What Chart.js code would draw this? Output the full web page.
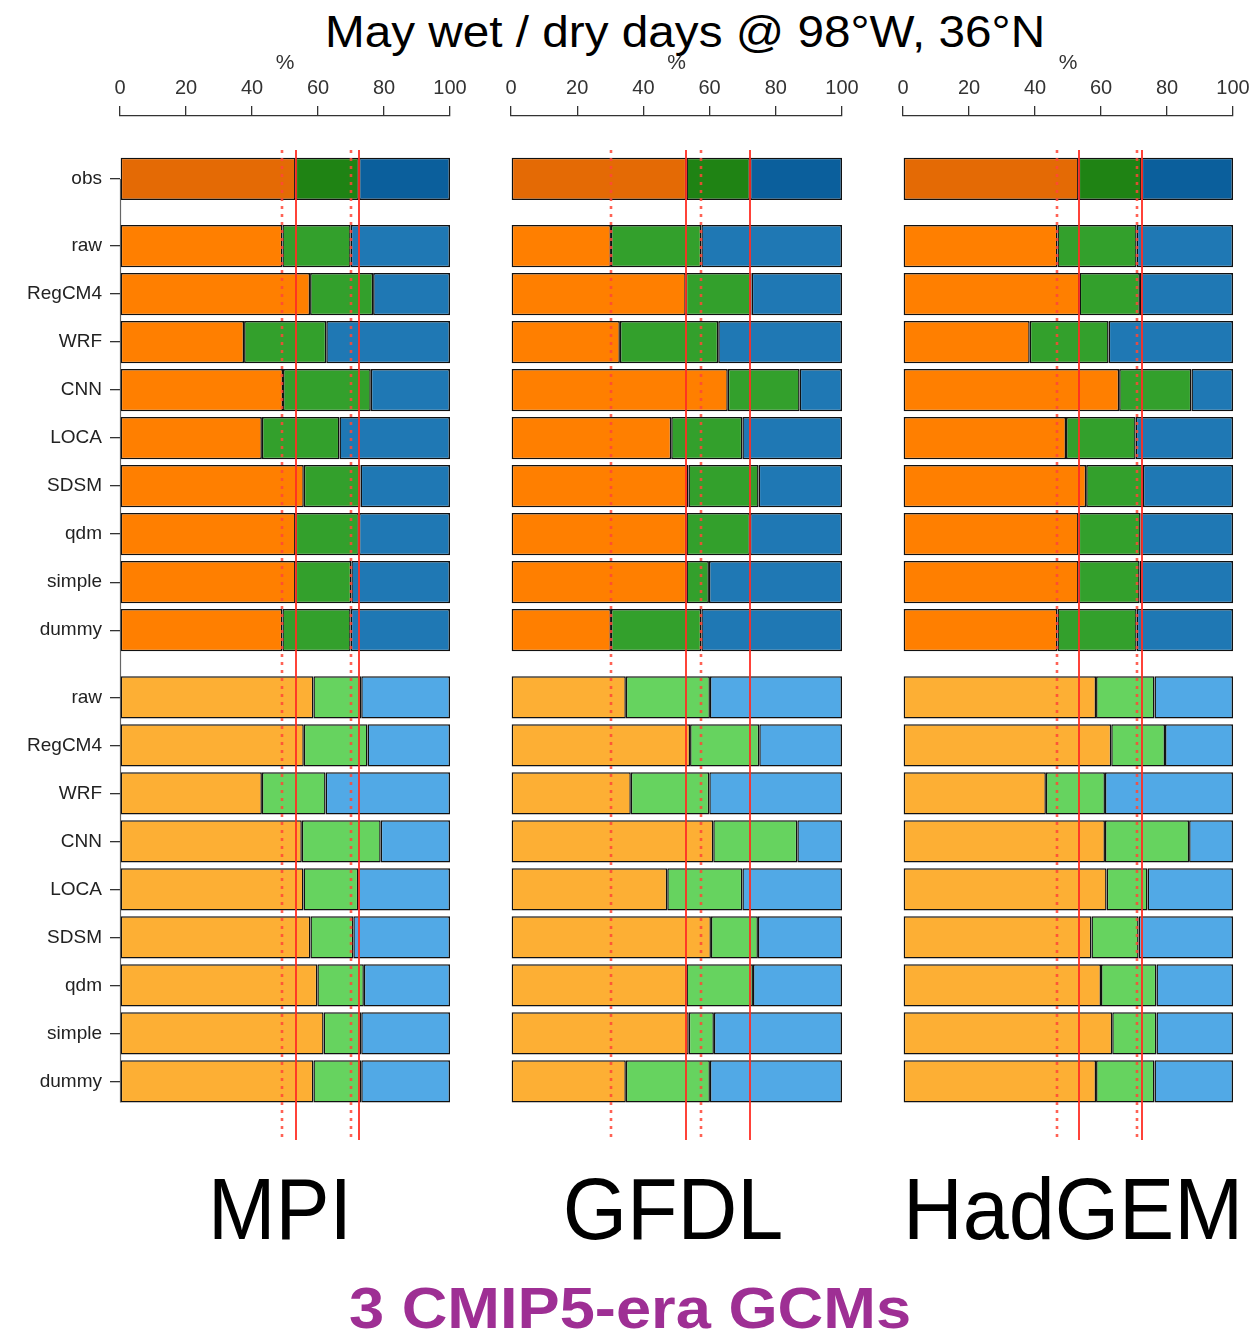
<!DOCTYPE html>
<html>
<head>
<meta charset="utf-8">
<title>May wet / dry days @ 98°W, 36°N</title>
<script src="https://cdn.jsdelivr.net/npm/chart.js@4.4.1/dist/chart.umd.min.js"></script>
<style>
  html, body { margin: 0; padding: 0; background: #fff; }
  body { width: 1257px; height: 1336px; position: relative; overflow: hidden;
         font-family: "Liberation Sans", Arial, Helvetica, sans-serif; }
  .panel { position: absolute; top: 0; }
  .txt { position: absolute; white-space: nowrap; line-height: 1; text-align: center;
         transform-origin: center center; color: #000; }
</style>
</head>
<body>
<div class="txt" id="title" style="left:285px;width:800px;top:9px;font-size:45px;transform:scaleX(1.06)">May wet / dry days @ 98°W, 36°N</div>

<div class="panel" style="left:0px"><canvas id="cMPI" width="480" height="1160"></canvas></div>
<div class="panel" style="left:480px"><canvas id="cGFDL" width="390" height="1160"></canvas></div>
<div class="panel" style="left:870px"><canvas id="cHadGEM" width="387" height="1160"></canvas></div>

<div class="txt" style="left:80px;width:400px;top:1165px;font-size:88px;transform:scaleX(0.92)">MPI</div>
<div class="txt" style="left:473px;width:400px;top:1165px;font-size:88px;transform:scaleX(0.94)">GFDL</div>
<div class="txt" style="left:873px;width:400px;top:1165px;font-size:88px;transform:scaleX(0.94)">HadGEM</div>
<div class="txt" style="left:230px;width:800px;top:1279px;font-size:58px;font-weight:bold;color:#9E2F94;transform:scaleX(1.09)">3 CMIP5-era GCMs</div>

<script>
// Row labels of the downscaling methods
const rowLabels = ['raw', 'RegCM4', 'WRF', 'CNN', 'LOCA', 'SDSM', 'qdm', 'simple', 'dummy'];
const xTicks = [0, 20, 40, 60, 80, 100];

// Share of days (%) in each class: dry, intermediate, wet
// --- MPI ---
const mpiObs     = [53.2, 19.2, 27.6];
const mpiHistDry = [49.2, 57.6, 37.6, 49.4, 43.0, 55.7, 53.2, 53.2, 49.2];
const mpiHistMid = [20.7, 19.1, 24.9, 26.6, 23.5, 17.2, 19.2, 16.9, 20.7];
const mpiHistWet = [30.1, 23.3, 37.5, 24.0, 33.5, 27.1, 27.6, 29.9, 30.1];
const mpiFutDry  = [58.6, 55.7, 43.0, 55.1, 55.6, 57.7, 59.8, 61.7, 58.6];
const mpiFutMid  = [14.5, 19.3, 19.3, 23.9, 16.6, 13.0, 14.1, 11.4, 14.5];
const mpiFutWet  = [26.9, 25.0, 37.7, 21.0, 27.8, 29.3, 26.1, 26.9, 26.9];
// --- GFDL ---
const gfdlObs     = [53.0, 19.2, 27.8];
const gfdlHistDry = [30.2, 52.8, 32.9, 65.5, 48.4, 53.6, 53.0, 53.0, 30.2];
const gfdlHistMid = [27.3, 19.9, 29.7, 21.7, 21.5, 21.2, 19.2,  6.8, 27.3];
const gfdlHistWet = [42.5, 27.3, 37.4, 12.8, 30.1, 25.2, 27.8, 40.2, 42.5];
const gfdlFutDry  = [34.7, 54.1, 36.2, 61.1, 47.2, 60.4, 53.0, 53.7, 34.7];
const gfdlFutMid  = [25.4, 20.9, 23.7, 25.4, 22.7, 14.2, 20.1,  7.6, 25.4];
const gfdlFutWet  = [39.9, 25.0, 40.1, 13.5, 30.1, 25.4, 26.9, 38.7, 39.9];
// --- HadGEM ---
const hadObs     = [53.2, 19.1, 27.7];
const hadHistDry = [46.8, 53.5, 38.4, 65.5, 49.4, 55.5, 53.2, 53.2, 46.8];
const hadHistMid = [24.0, 18.3, 23.9, 21.9, 21.1, 17.2, 18.8, 18.5, 24.0];
const hadHistWet = [29.2, 28.2, 37.7, 12.6, 29.5, 27.3, 28.0, 28.3, 29.2];
const hadFutDry  = [58.5, 63.1, 43.3, 61.2, 61.7, 57.1, 60.0, 63.4, 58.5];
const hadFutMid  = [17.7, 16.3, 17.9, 25.5, 12.4, 14.3, 16.8, 13.4, 17.7];
const hadFutWet  = [23.8, 20.6, 38.8, 13.3, 25.9, 28.6, 23.2, 23.2, 23.8];

// Fill colours per row group (dry, intermediate, wet)
const obsColors  = ['#E46A05', '#1F8314', '#0B5F9C'];
const histColors = ['#FF7F00', '#33A02C', '#1F78B4'];
const futColors  = ['#FDAF34', '#66D35F', '#51A9E6'];

// Row layout: obs, then the historical block, then the future block,
// each block separated by a slightly wider gap.
const GROUP_GAP = 1.4;
const obsPos  = 0;
const histPos = rowLabels.map((_, i) => GROUP_GAP + i);
const futPos  = rowLabels.map((_, i) => 2 * GROUP_GAP + rowLabels.length - 1 + i);
const allPos  = [obsPos, ...histPos, ...futPos];
const allLabels = ['obs', ...rowLabels, ...rowLabels];

Chart.defaults.font.family = '"Liberation Sans", Arial, Helvetica, sans-serif';
Chart.defaults.color = '#333';

// Vertical reference lines: solid at the observed class limits,
// dotted at the raw model class limits. Also the left axis line.
const refLines = {
  id: 'refLines',
  beforeDatasetsDraw(chart, args, opts) {
    if (!opts.axisLine) return;
    const { ctx, chartArea, scales: { y } } = chart;
    ctx.save();
    ctx.strokeStyle = '#666';
    ctx.lineWidth = 1.2;
    ctx.beginPath();
    ctx.moveTo(chartArea.left + 0.5, y.getPixelForValue(obsPos));
    ctx.lineTo(chartArea.left + 0.5, y.getPixelForValue(futPos[futPos.length - 1] + 0.44));
    ctx.stroke();
    ctx.restore();
  },
  afterDatasetsDraw(chart, args, opts) {
    const { ctx, chartArea, scales: { x, y } } = chart;
    const top = y.getPixelForValue(obsPos - 0.6);
    const bottom = chartArea.bottom;
    ctx.save();
    ctx.lineWidth = 2;
    ctx.strokeStyle = 'rgba(255, 45, 35, 0.9)';
    ctx.setLineDash([]);
    opts.solid.forEach(v => {
      const px = Math.round(x.getPixelForValue(v));
      ctx.beginPath(); ctx.moveTo(px, top); ctx.lineTo(px, bottom); ctx.stroke();
    });
    ctx.strokeStyle = 'rgba(255, 70, 55, 0.85)';
    ctx.lineWidth = 2.6;
    ctx.setLineDash([3, 5]);
    opts.dotted.forEach(v => {
      const px = Math.round(x.getPixelForValue(v));
      ctx.beginPath(); ctx.moveTo(px, top); ctx.lineTo(px, bottom); ctx.stroke();
    });
    ctx.restore();
  }
};

function makeChart(id, obs, hDry, hMid, hWet, fDry, fMid, fWet, showY, padL, padR) {
  const seg = [
    [obs[0], ...hDry, ...fDry],
    [obs[1], ...hMid, ...fMid],
    [obs[2], ...hWet, ...fWet]
  ];
  const datasets = seg.map((vals, k) => ({
    label: ['dry', 'intermediate', 'wet'][k],
    data: vals.map((v, i) => ({ x: v, y: allPos[i] })),
    backgroundColor: allPos.map((_, i) => i === 0 ? obsColors[k] : (i <= rowLabels.length ? histColors[k] : futColors[k])),
    borderColor: '#111',
    borderWidth: 1.5,
    borderSkipped: false,
    barPercentage: 0.88,
    categoryPercentage: 1.0
  }));

  return new Chart(document.getElementById(id), {
    type: 'bar',
    data: { datasets },
    plugins: [refLines],
    options: {
      indexAxis: 'y',
      responsive: false,
      animation: false,
      devicePixelRatio: 1,
      layout: { padding: { left: padL, right: padR, top: 0, bottom: 20 } },
      plugins: {
        legend: { display: false },
        tooltip: { enabled: false },
        refLines: {
          solid: [obs[0], obs[0] + obs[1]],
          dotted: [hDry[0], hDry[0] + hMid[0]],
          axisLine: showY
        }
      },
      scales: {
        x: {
          type: 'linear',
          position: 'top',
          stacked: true,
          offset: false,
          min: 0, max: 100,
          afterBuildTicks: s => { s.ticks = xTicks.map(v => ({ value: v })); },
          afterFit: s => { s.height = 116; },
          ticks: { font: { size: 20 }, color: '#333', padding: 6 },
          grid: { offset: false, drawOnChartArea: false, drawTicks: true, tickLength: 10, color: '#333', lineWidth: 1.3 },
          border: { display: true, color: '#333', width: 1.3 },
          title: { display: true, text: '%', font: { size: 21 }, color: '#333', padding: { top: 51, bottom: 0 } }
        },
        y: {
          type: 'linear',
          reverse: true,
          stacked: true,
          offset: false,
          display: showY,
          min: -1.31, max: 20.02,
          afterBuildTicks: s => { s.ticks = allPos.map(v => ({ value: v })); },
          afterFit: s => { s.width = showY ? 120 : 0; },
          ticks: {
            autoSkip: false,
            font: { size: 19 },
            color: '#222',
            padding: 8,
            callback: (v, i) => allLabels[i]
          },
          grid: { offset: false, drawOnChartArea: false, drawTicks: true, tickLength: 10, color: '#333', lineWidth: 1.3 },
          border: { display: false }
        }
      }
    }
  });
}

makeChart('cMPI', mpiObs, mpiHistDry, mpiHistMid, mpiHistWet, mpiFutDry, mpiFutMid, mpiFutWet, true, 0, 30);
makeChart('cGFDL', gfdlObs, gfdlHistDry, gfdlHistMid, gfdlHistWet, gfdlFutDry, gfdlFutMid, gfdlFutWet, false, 31, 28);
makeChart('cHadGEM', hadObs, hadHistDry, hadHistMid, hadHistWet, hadFutDry, hadFutMid, hadFutWet, false, 33, 24);
</script>
</body>
</html>
